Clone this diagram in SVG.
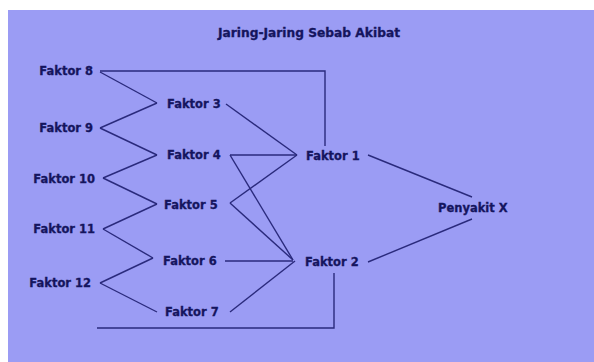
<svg xmlns="http://www.w3.org/2000/svg" width="594" height="362" viewBox="0 0 594 362">
<style>
text{font-family:"DejaVu Sans","Verdana",sans-serif;font-weight:bold;font-size:11.5px;fill:#15155e;stroke:#15155e;stroke-width:0.3}
.c line,.c polyline{stroke:#2a2a7c;stroke-width:1.4;fill:none}
</style>
<rect x="0" y="0" width="594" height="362" fill="#ffffff"/>
<rect x="8" y="10" width="586" height="352" fill="#9b9cf4"/>
<text x="218" y="37" font-size="10px" textLength="182" lengthAdjust="spacingAndGlyphs">Jaring-Jaring Sebab Akibat</text>
<g class="c" id="connectors">
<polyline points="100,71 325,71 325,146"/>
<line x1="100" y1="72" x2="157" y2="103"/>
<line x1="100" y1="128" x2="157" y2="103"/>
<line x1="100" y1="128" x2="157" y2="155"/>
<line x1="103" y1="178" x2="157" y2="155"/>
<line x1="103" y1="178" x2="157" y2="204"/>
<line x1="103" y1="229" x2="157" y2="204"/>
<line x1="103" y1="229" x2="153" y2="258"/>
<line x1="100" y1="283" x2="153" y2="258"/>
<line x1="100" y1="283" x2="157" y2="312"/>
<line x1="226" y1="104" x2="297" y2="155"/>
<line x1="230" y1="155" x2="297" y2="155"/>
<line x1="230" y1="155" x2="293" y2="260"/>
<line x1="230" y1="203" x2="297" y2="155"/>
<line x1="230" y1="203" x2="293" y2="260"/>
<line x1="225" y1="261" x2="293" y2="261"/>
<line x1="230" y1="312" x2="295" y2="261"/>
<line x1="368" y1="155" x2="472" y2="197"/>
<line x1="368" y1="262" x2="472" y2="219"/>
<polyline points="97,328 334,328 334,273"/>
</g>
<g id="faktor8"><text x="93" y="75" text-anchor="end">Faktor 8</text></g>
<g id="faktor9"><text x="93" y="132" text-anchor="end">Faktor 9</text></g>
<g id="faktor10"><text x="95" y="183" text-anchor="end">Faktor 10</text></g>
<g id="faktor11"><text x="95" y="233" text-anchor="end">Faktor 11</text></g>
<g id="faktor12"><text x="91" y="287" text-anchor="end">Faktor 12</text></g>
<g id="faktor3"><text x="167" y="108">Faktor 3</text></g>
<g id="faktor4"><text x="167" y="159">Faktor 4</text></g>
<g id="faktor5"><text x="164" y="209">Faktor 5</text></g>
<g id="faktor6"><text x="163" y="265">Faktor 6</text></g>
<g id="faktor7"><text x="165" y="316">Faktor 7</text></g>
<g id="faktor1"><text x="306" y="160">Faktor 1</text></g>
<g id="faktor2"><text x="305" y="266">Faktor 2</text></g>
<g id="penyakitx"><text x="438" y="212">Penyakit X</text></g>
</svg>
